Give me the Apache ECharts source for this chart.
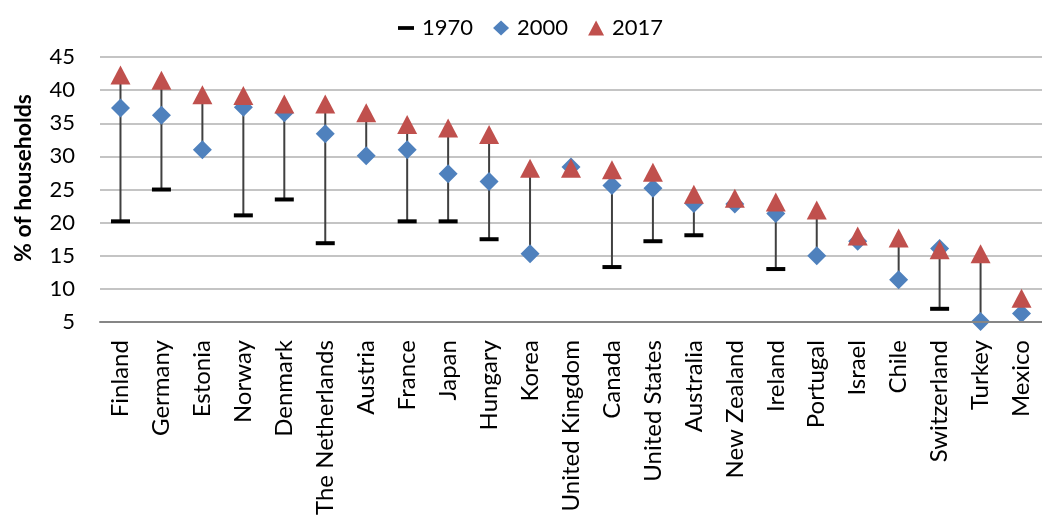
<!DOCTYPE html>
<html>
<head>
<meta charset="utf-8">
<script src="https://cdn.jsdelivr.net/npm/echarts@6/dist/echarts.min.js"></script>
<style>
  html, body { margin: 0; padding: 0; background: #fff; }
  #chart { width: 1042px; height: 518px; }
</style>
</head>
<body>
<div id="chart"></div>
<script>
// Share of households, by country and year
const countries = ['Finland', 'Germany', 'Estonia', 'Norway', 'Denmark', 'The Netherlands', 'Austria',
  'France', 'Japan', 'Hungary', 'Korea', 'United Kingdom', 'Canada', 'United States', 'Australia',
  'New Zealand', 'Ireland', 'Portugal', 'Israel', 'Chile', 'Switzerland', 'Turkey', 'Mexico'];
const y1970 = [20.2, 25.0, null, 21.1, 23.5, 16.9, null, 20.2, 20.2, 17.5, null, null, 13.3, 17.2, 18.1,
  null, 13.0, null, null, null, 7.0, null, null];
const y2000 = [37.3, 36.2, 31.0, 37.4, 36.6, 33.4, 30.1, 31.0, 27.4, 26.2, 15.3, 28.4, 25.6, 25.2, 22.9,
  22.8, 21.4, 15.0, 17.2, 11.4, 16.1, 5.1, 6.3];
const y2017 = [42.3, 41.5, 39.3, 39.2, 37.9, 37.9, 36.6, 34.8, 34.3, 33.3, 28.2, 28.2, 28.0, 27.6, 24.3,
  23.7, 23.1, 21.9, 18.0, 17.7, 15.9, 15.3, 8.6];
const yTicks = { min: 5, max: 45, step: 5 };

const FONT = 'Lato';

// high-low range per country, spanning all available years
const ranges = countries.map((c, i) => {
  const vals = [y1970[i], y2000[i], y2017[i]].filter(v => v != null);
  return [i, Math.min(...vals), Math.max(...vals)];
});

const chart = echarts.init(document.getElementById('chart'), null, { renderer: 'canvas' });

chart.setOption({
  animation: false,
  backgroundColor: '#ffffff',
  grid: { left: 100, right: -11, top: 57, bottom: 195, containLabel: false },
  legend: {
    left: 393,
    top: 12,
    itemWidth: 16,
    itemHeight: 15,
    itemGap: 20,
    textStyle: { fontFamily: FONT, fontSize: 22, color: '#000', padding: [0, 0, 0, 3] },
    data: [
      { name: '1970', icon: 'path://M0,0H17V4H0Z' },
      { name: '2000', icon: 'diamond' },
      { name: '2017', icon: 'triangle' }
    ]
  },
  graphic: [{
    type: 'text',
    x: 24,
    y: 178,
    rotation: Math.PI / 2,
    style: {
      text: '% of households',
      font: 'bold 23px ' + FONT,
      fill: '#000',
      align: 'center',
      verticalAlign: 'middle'
    }
  }],
  xAxis: {
    type: 'category',
    data: countries,
    boundaryGap: true,
    axisLine: { show: true, lineStyle: { color: '#868686', width: 2 } },
    axisTick: { show: false },
    axisLabel: {
      interval: 0,
      rotate: 90,
      margin: 18,
      fontFamily: FONT,
      fontSize: 24,
      color: '#000'
    },
    splitLine: { show: false },
    z: 5
  },
  yAxis: {
    type: 'value',
    min: yTicks.min,
    max: yTicks.max,
    interval: yTicks.step,
    axisLine: { show: false },
    axisTick: { show: false },
    axisLabel: { margin: 25, fontFamily: FONT, fontSize: 22, color: '#000' },
    splitLine: { show: true, lineStyle: { color: '#c4c4c4', width: 2 } }
  },
  series: [
    {
      name: 'range',
      type: 'custom',
      data: ranges,
      encode: { x: 0, y: [1, 2] },
      silent: true,
      z: 1,
      renderItem: function (params, api) {
        const p1 = api.coord([api.value(0), api.value(1)]);
        const p2 = api.coord([api.value(0), api.value(2)]);
        return {
          type: 'line',
          shape: { x1: p1[0], y1: p1[1], x2: p2[0], y2: p2[1] },
          style: { stroke: '#404040', lineWidth: 2 }
        };
      }
    },
    {
      name: '1970',
      type: 'scatter',
      data: y1970,
      symbol: 'rect',
      symbolSize: [19, 4],
      itemStyle: { color: '#000000', opacity: 1 },
      z: 2
    },
    {
      name: '2000',
      type: 'scatter',
      data: y2000,
      symbol: 'diamond',
      symbolSize: [19, 19],
      itemStyle: { color: '#4f81bd', opacity: 1 },
      z: 3
    },
    {
      name: '2017',
      type: 'scatter',
      data: y2017,
      symbol: 'triangle',
      symbolSize: [20, 19],
      itemStyle: { color: '#c0504d', opacity: 1 },
      z: 4
    }
  ]
});
</script>
</body>
</html>
